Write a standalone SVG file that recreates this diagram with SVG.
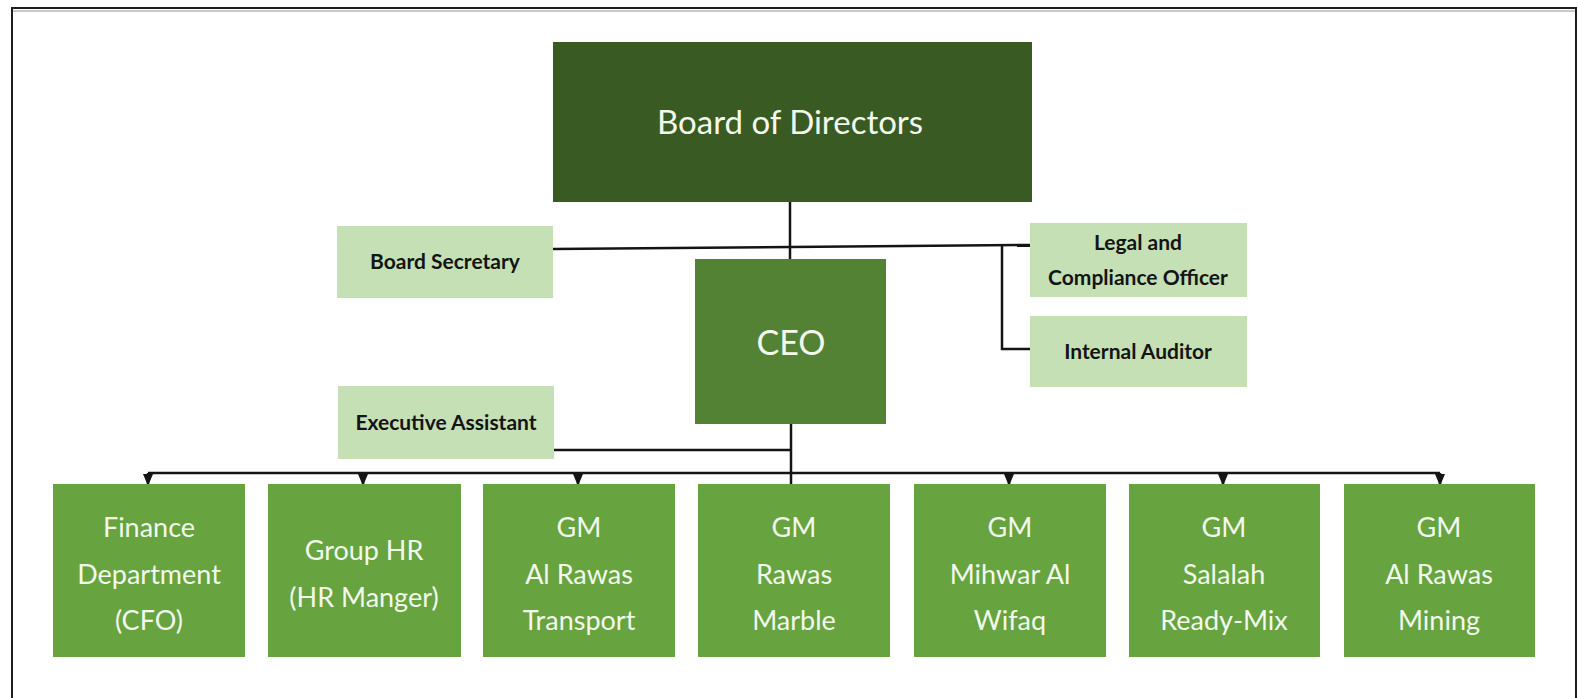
<svg xmlns="http://www.w3.org/2000/svg" width="1578" height="698" viewBox="0 0 1578 698">
  <style>
    .frame { fill: none; stroke: #1e1e1e; stroke-width: 2; }
    .line { fill: none; stroke: #141414; stroke-width: 2.5; }
    .board { fill: #3A5A24; }
    .ceo { fill: #548235; }
    .staff { fill: #C5E0B4; }
    .unit { fill: #67A33F; }
    .big { font-family: Lato, "Liberation Sans", sans-serif; fill: #F2F9EC; text-anchor: middle; }
    .small { font-family: Lato, "Liberation Sans", sans-serif; font-weight: bold; fill: #141414; text-anchor: middle; font-size: 21px; }
    .unit-text { font-size: 27px; }
  </style>
  <defs>
    <marker id="tri" viewBox="0 0 12 10" refX="12" refY="5" markerWidth="12" markerHeight="10" markerUnits="userSpaceOnUse" orient="auto">
      <path d="M0,0 L12,5 L0,10 z" fill="#141414"/>
    </marker>
  </defs>

  <rect width="1578" height="698" fill="#ffffff"/>
  <!-- page frame (open at the bottom) -->
  <rect class="frame" x="12" y="8" width="1564" height="710"/>
  <line x1="13" y1="11" x2="1575" y2="11" stroke="#c8c8c8" stroke-width="2"/>

  <!-- connectors -->
  <g id="connectors">
    <line class="line" x1="790" y1="202" x2="790" y2="260"/>
    <line class="line" x1="553" y1="249" x2="1030" y2="245"/>
    <polyline class="line" points="1002,245 1002,349 1030,349"/>
    <line class="line" x1="791" y1="424" x2="791" y2="484"/>
    <line class="line" x1="554" y1="450" x2="791" y2="450"/>
    <line class="line" x1="148" y1="473" x2="1440" y2="473"/>
    <line class="line" x1="148" y1="473" x2="148" y2="486" marker-end="url(#tri)"/>
    <line class="line" x1="363" y1="473" x2="363" y2="486" marker-end="url(#tri)"/>
    <line class="line" x1="578" y1="473" x2="578" y2="486" marker-end="url(#tri)"/>
    <line class="line" x1="1009" y1="473" x2="1009" y2="486" marker-end="url(#tri)"/>
    <line class="line" x1="1223" y1="473" x2="1223" y2="486" marker-end="url(#tri)"/>
    <line class="line" x1="1440" y1="473" x2="1440" y2="486" marker-end="url(#tri)"/>
  </g>

  <g id="board">
    <rect class="board" x="553" y="42" width="479" height="160"/>
    <text class="big" x="790" y="134" font-size="33">Board of Directors</text>
  </g>

  <g id="ceo">
    <rect class="ceo" x="695" y="259" width="191" height="165"/>
    <text class="big" x="791" y="355" font-size="34">CEO</text>
  </g>

  <g id="board-secretary">
    <rect class="staff" x="337" y="226" width="216" height="72"/>
    <text class="small" x="445" y="269">Board Secretary</text>
  </g>

  <g id="executive-assistant">
    <rect class="staff" x="338" y="386" width="216" height="73"/>
    <text class="small" x="446" y="430">Executive Assistant</text>
  </g>

  <g id="legal-compliance">
    <rect class="staff" x="1030" y="223" width="217" height="74"/>
    <text class="small" x="1138" y="250">Legal and</text>
    <text class="small" x="1138" y="285">Compliance Officer</text>
  </g>

  <g id="internal-auditor">
    <rect class="staff" x="1030" y="316" width="217" height="71"/>
    <text class="small" x="1138" y="359">Internal Auditor</text>
  </g>

  <g id="finance">
    <rect class="unit" x="53" y="484" width="192" height="173"/>
    <text class="big unit-text" x="149" y="537">Finance</text>
    <text class="big unit-text" x="149" y="584">Department</text>
    <text class="big unit-text" x="149" y="630">(CFO)</text>
  </g>

  <g id="group-hr">
    <rect class="unit" x="268" y="484" width="193" height="173"/>
    <text class="big unit-text" x="364" y="560">Group HR</text>
    <text class="big unit-text" x="364" y="607">(HR Manger)</text>
  </g>

  <g id="gm-transport">
    <rect class="unit" x="483" y="484" width="192" height="173"/>
    <text class="big unit-text" x="579" y="537">GM</text>
    <text class="big unit-text" x="579" y="584">Al Rawas</text>
    <text class="big unit-text" x="579" y="630">Transport</text>
  </g>

  <g id="gm-marble">
    <rect class="unit" x="698" y="484" width="192" height="173"/>
    <text class="big unit-text" x="794" y="537">GM</text>
    <text class="big unit-text" x="794" y="584">Rawas</text>
    <text class="big unit-text" x="794" y="630">Marble</text>
  </g>

  <g id="gm-mihwar">
    <rect class="unit" x="914" y="484" width="192" height="173"/>
    <text class="big unit-text" x="1010" y="537">GM</text>
    <text class="big unit-text" x="1010" y="584">Mihwar Al</text>
    <text class="big unit-text" x="1010" y="630">Wifaq</text>
  </g>

  <g id="gm-salalah">
    <rect class="unit" x="1129" y="484" width="191" height="173"/>
    <text class="big unit-text" x="1224" y="537">GM</text>
    <text class="big unit-text" x="1224" y="584">Salalah</text>
    <text class="big unit-text" x="1224" y="630">Ready-Mix</text>
  </g>

  <g id="gm-mining">
    <rect class="unit" x="1344" y="484" width="191" height="173"/>
    <text class="big unit-text" x="1439" y="537">GM</text>
    <text class="big unit-text" x="1439" y="584">Al Rawas</text>
    <text class="big unit-text" x="1439" y="630">Mining</text>
  </g>
</svg>
